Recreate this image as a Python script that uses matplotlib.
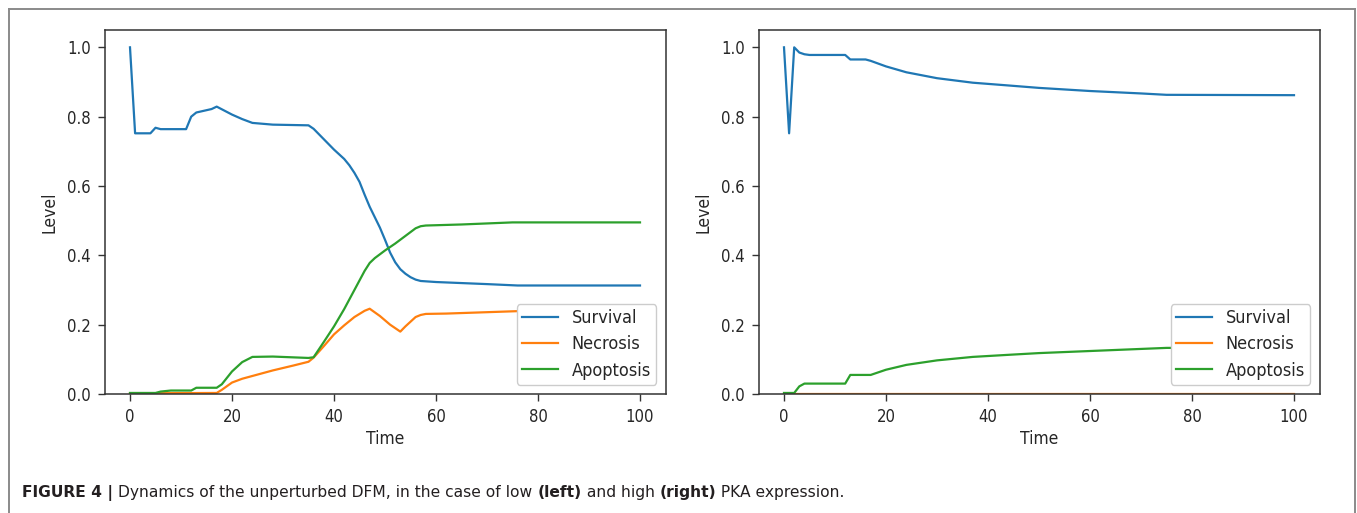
import matplotlib
matplotlib.use("Agg")
import matplotlib.pyplot as plt
from matplotlib import font_manager
from matplotlib.font_manager import FontProperties
from matplotlib.lines import Line2D

# ---------------- data ----------------
# Low PKA expression (left panel)
t_surv_low = [0, 1, 4, 5, 6, 11, 12, 13, 16, 17, 20, 22, 24, 28, 35, 36, 38, 40, 42,
              43, 44, 45, 46, 47, 48, 49, 50, 51, 52, 53, 54, 55, 56, 57, 60, 70, 76, 100]
v_surv_low = [1.0, 0.752, 0.752, 0.768, 0.764, 0.764, 0.800, 0.812, 0.822, 0.829,
              0.806, 0.793, 0.782, 0.777, 0.775, 0.765, 0.735, 0.705, 0.678,
              0.660, 0.638, 0.612, 0.575, 0.540, 0.510, 0.480, 0.445, 0.408, 0.380,
              0.360, 0.347, 0.337, 0.330, 0.326, 0.323, 0.317, 0.313, 0.313]

t_necr_low = [0, 17, 18, 20, 22, 24, 28, 32, 35, 36, 38, 40, 42, 44, 46, 47, 49, 51,
              53, 54, 56, 57, 58, 62, 70, 76, 100]
v_necr_low = [0.002, 0.003, 0.012, 0.033, 0.044, 0.052, 0.068, 0.082, 0.093, 0.105,
              0.138, 0.172, 0.198, 0.222, 0.240, 0.246, 0.225, 0.200, 0.180, 0.195,
              0.222, 0.228, 0.231, 0.232, 0.236, 0.239, 0.243]

t_apop_low = [0, 5, 6, 8, 12, 13, 17, 18, 20, 22, 24, 28, 35, 36, 38, 40, 42, 44, 46,
              47, 48, 50, 52, 54, 56, 57, 58, 65, 75, 100]
v_apop_low = [0.003, 0.003, 0.007, 0.010, 0.010, 0.018, 0.018, 0.028, 0.065, 0.092,
              0.107, 0.108, 0.104, 0.106, 0.150, 0.195, 0.245, 0.300, 0.355, 0.378,
              0.392, 0.414, 0.434, 0.456, 0.478, 0.484, 0.486, 0.489, 0.495, 0.495]

# High PKA expression (right panel)
t_surv_high = [0, 1, 2, 3, 4, 5, 12, 13, 16, 17, 20, 24, 30, 37, 44, 50, 60, 70, 75, 100]
v_surv_high = [1.0, 0.752, 1.0, 0.985, 0.980, 0.978, 0.978, 0.965, 0.965, 0.961,
               0.945, 0.928, 0.911, 0.898, 0.890, 0.883, 0.874, 0.867, 0.863, 0.862]

t_necr_high = [0, 100]
v_necr_high = [0.0, 0.0]

t_apop_high = [0, 2, 3, 4, 12, 13, 17, 20, 24, 30, 37, 44, 50, 60, 70, 75, 100]
v_apop_high = [0.003, 0.003, 0.022, 0.030, 0.030, 0.055, 0.055, 0.070, 0.084, 0.097,
               0.107, 0.113, 0.118, 0.124, 0.130, 0.133, 0.134]

series_names = ["Survival", "Necrosis", "Apoptosis"]
series_colors = ["#1f77b4", "#ff7f0e", "#2ca02c"]
x_ticks = [0, 20, 40, 60, 80, 100]
y_ticks = [0.0, 0.2, 0.4, 0.6, 0.8, 1.0]

caption_parts = [
    ("FIGURE 4 | ", "bold"),
    ("Dynamics of the unperturbed DFM, in the case of low ", "normal"),
    ("(left)", "bold"),
    (" and high ", "normal"),
    ("(right)", "bold"),
    (" PKA expression.", "normal"),
]

# ---------------- fonts ----------------
def plot_font(size):
    for f in font_manager.fontManager.ttflist:
        if f.fname.endswith("DejaVuSansCondensed.ttf"):
            return FontProperties(fname=f.fname, size=size)
    return FontProperties(family="DejaVu Sans", size=size * 0.92)

tick_fp = plot_font(12)
label_fp = plot_font(12.5)
legend_fp = plot_font(13)

# ---------------- figure ----------------
W, H = 1357, 513
fig = plt.figure(figsize=(W / 100, H / 100), dpi=100)
fig.patch.set_facecolor("white")

panels = [
    (104.5, [(t_surv_low, v_surv_low), (t_necr_low, v_necr_low), (t_apop_low, v_apop_low)]),
    (758.5, [(t_surv_high, v_surv_high), (t_necr_high, v_necr_high), (t_apop_high, v_apop_high)]),
]

for left_px, curves in panels:
    ax = fig.add_axes([left_px / W, 119 / H, 561 / W, 364 / H])
    for (tt, vv), name, col in zip(curves, series_names, series_colors):
        ax.plot(tt, vv, color=col, lw=1.6, label=name)
    ax.set_xlim(-5, 105)
    ax.set_ylim(0, 1.05)
    ax.set_xticks(x_ticks)
    ax.set_yticks(y_ticks)
    ax.set_xticklabels([str(v) for v in x_ticks])
    ax.set_yticklabels([f"{v:.1f}" for v in y_ticks])
    for lab in ax.get_xticklabels() + ax.get_yticklabels():
        lab.set_fontproperties(tick_fp)
        lab.set_color("#262626")
    ax.tick_params(length=5, width=1, color="#333333", pad=5)
    for sp in ax.spines.values():
        sp.set_linewidth(1.1)
        sp.set_color("#333333")
    ax.set_xlabel("Time", fontproperties=label_fp, color="#262626", labelpad=3)
    ax.set_ylabel("Level", fontproperties=label_fp, color="#262626", labelpad=6)
    leg = ax.legend(loc="lower right", prop=legend_fp, framealpha=1.0,
                    borderaxespad=0.5, borderpad=0.3, handlelength=2.0,
                    handletextpad=0.75, labelspacing=0.45)
    leg.get_frame().set_edgecolor("#cccccc")
    for txt in leg.get_texts():
        txt.set_color("#262626")

# outer frame (left, top, right edges)
frame_kw = dict(color="#8a8a8a", lw=1.4, transform=fig.transFigure)
x0, x1, y_top = 8.5 / W, 1355 / W, 1 - 9 / H
fig.add_artist(Line2D([x0, x0], [0, y_top], **frame_kw))
fig.add_artist(Line2D([x0, x1], [y_top, y_top], **frame_kw))
fig.add_artist(Line2D([x1, x1], [0, y_top], **frame_kw))

# caption, built from bold and regular pieces
renderer = fig.canvas.get_renderer()
x = 22 / W
y = 1 - 497 / H
for text, weight in caption_parts:
    t = fig.text(x, y, text, fontsize=11.2, fontweight=weight,
                 family="DejaVu Sans", color="#231f20", ha="left", va="baseline")
    bb = t.get_window_extent(renderer)
    x += bb.width / W

fig.savefig("out.png", dpi=100)
